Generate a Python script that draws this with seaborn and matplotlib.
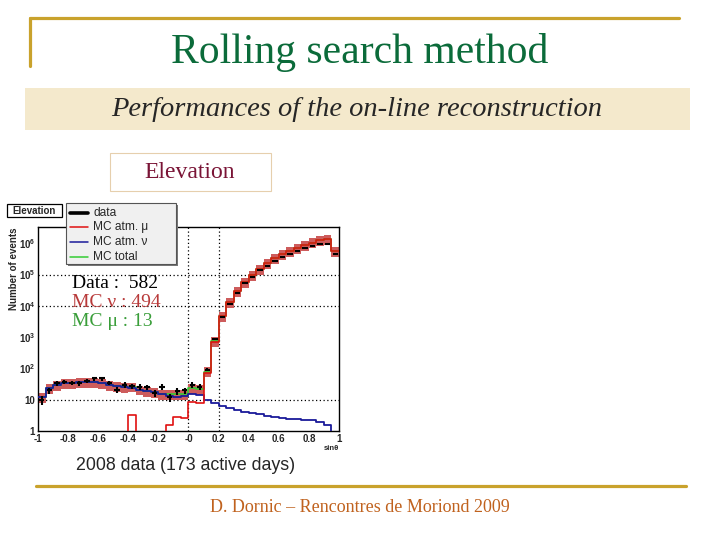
import numpy as np
import pandas as pd
import matplotlib
matplotlib.use("Agg")
import matplotlib.pyplot as plt
from matplotlib.patches import Rectangle
from matplotlib.lines import Line2D
import seaborn as sns

# sin(theta) binning: 40 bins of 0.05 from -1 to 1
bin_edges = np.round(np.arange(-1.0, 1.0001, 0.05), 3)
bin_centers = bin_edges[:-1] + 0.025

# Values (events per bin)
data_counts = [10, 20, 33, 37, 35, 33, 40, 48, 48, 35,
               21, 30, 27, 26, 25, 16, 26, 12, 19, 20,
               30, 26, 90, 870, 4300, 11500, 25000, 52000, 85000, 135000,
               185000, 270000, 360000, 450000, 560000, 700000, 820000, 920000, 950000, 450000]
mc_atm_mu = [0, 0, 0, 0, 0, 0, 0, 0, 0, 0,
             0, 0, 3.2, 0, 0, 0, 0, 1.5, 2.9, 2.6,
             8.2, 7.8, 70, 720, 4700, 13000, 29000, 58000, 95000, 145000,
             230000, 340000, 450000, 560000, 700000, 860000, 1050000, 1250000, 1400000, 550000]
mc_atm_nu = [12, 24, 30, 33, 35, 36, 36, 36, 34, 30,
             27, 25, 23, 21, 19, 17, 15, 13.5, 12.5, 13,
             15, 14, 9.5, 8, 6.5, 5.5, 4.6, 4.1, 3.7, 3.4,
             3.1, 2.9, 2.7, 2.5, 2.4, 2.3, 2.2, 2.0, 1.6, 0.5]
mc_rel_err = 0.35  # systematic band on MC total

x_ticks = [-1, -0.8, -0.6, -0.4, -0.2, 0, 0.2, 0.4, 0.6, 0.8, 1]
x_ticklabels = ["-1", "-0.8", "-0.6", "-0.4", "-0.2", "-0", "0.2", "0.4", "0.6", "0.8", "1"]
y_ticks = [1, 10, 1e2, 1e3, 1e4, 1e5, 1e6]
y_ticklabels = ["1", "10", "$10^2$", "$10^3$", "$10^4$", "$10^5$", "$10^6$"]

legend_labels = ["data", "MC atm. \u03bc", "MC atm. \u03bd", "MC total"]
legend_colors = ["black", "#e01010", "#1a1a9a", "#33cc33"]
counts_text = [("Data :  582", "black"), ("MC \u03bd : 494", "#b83a3a"), ("MC \u03bc : 13", "#3a9e3a")]

sns.set_style("white")
plt.rcParams["font.family"] = ["Liberation Sans", "DejaVu Sans"]
plt.rcParams["mathtext.fontset"] = "custom"
plt.rcParams["mathtext.rm"] = "Liberation Sans:bold"

W, H = 720, 540
fig = plt.figure(figsize=(7.2, 5.4), dpi=100)


def fx(x):
    return x / W


def fy(y):
    return 1 - y / H


gold = "#c9a22c"
# slide decoration
fig.add_artist(Line2D([fx(30), fx(679)], [fy(18), fy(18)], color=gold, lw=2.3))
fig.add_artist(Line2D([fx(30), fx(30)], [fy(18), fy(66)], color=gold, lw=2.3))
fig.add_artist(Line2D([fx(36), fx(686)], [fy(486), fy(486)], color=gold, lw=2.3))
fig.add_artist(Rectangle((fx(25), fy(130)), fx(665), 42 / H, color="#f4e9cc", lw=0))
fig.add_artist(Rectangle((fx(110), fy(191)), fx(161), 38 / H, facecolor="white",
                         edgecolor="#e6cfad", lw=0.8))

fig.text(fx(360), fy(53), "Rolling search method", ha="center", va="center",
         family="Liberation Serif", fontsize=30, color="#0b6b3a")
fig.text(fx(357), fy(110), "Performances of the on-line reconstruction", ha="center",
         va="center", family="Liberation Serif", style="italic", fontsize=20.5)
fig.text(fx(190), fy(173), "Elevation", ha="center", va="center",
         family="Liberation Serif", fontsize=17, color="#7a1436")
fig.text(fx(76), fy(466), "2008 data (173 active days)", ha="left", va="center",
         fontsize=12.8)
fig.text(fx(360), fy(507), "D. Dornic \u2013 Rencontres de Moriond 2009", ha="center",
         va="center", family="Liberation Serif", fontsize=13, color="#c0621e")

# histogram panel
ax = fig.add_axes([fx(38), fy(431), (339 - 38) / W, (431 - 227) / H])

mu = np.array(mc_atm_mu, dtype=float)
nu = np.array(mc_atm_nu, dtype=float)
total = mu + nu
data = np.array(data_counts, dtype=float)
df = pd.DataFrame({"sin_theta": bin_centers, "mu": mu, "nu": nu, "total": total})
edges = [float(e) for e in bin_edges]

ax.bar(bin_edges[:-1], total * 2 * mc_rel_err, bottom=total * (1 - mc_rel_err), width=0.05,
       align="edge", color="#cd5c5c", lw=0, zorder=1)
sns.histplot(data=df, x="sin_theta", weights="total", bins=edges, element="step",
             fill=False, color=legend_colors[3], linewidth=1.2, ax=ax, zorder=2)
sns.histplot(data=df, x="sin_theta", weights="nu", bins=edges, element="step",
             fill=False, color=legend_colors[2], linewidth=1.3, ax=ax, zorder=3)
sns.histplot(data=df, x="sin_theta", weights="mu", bins=edges, element="step",
             fill=False, color=legend_colors[1], linewidth=1.2, ax=ax, zorder=4)
ax.errorbar(bin_centers, data, yerr=np.sqrt(data), xerr=0.018, fmt="none",
            ecolor="black", elinewidth=1.5, zorder=5)

ax.set_yscale("log")
ax.set_xlim(-1, 1)
ax.set_ylim(1, 3.3e6)
ax.set_xlabel("")
ax.set_ylabel("")

ax.axvline(0, color="black", lw=0.9, ls=(0, (1, 2)), zorder=0.5)
ax.axvline(0.2, color="black", lw=0.9, ls=(0, (1, 2)), zorder=0.5)
for yv in [10, 1e4, 1e5]:
    ax.axhline(yv, color="black", lw=0.9, ls=(0, (1, 2)), zorder=0.5)

ax.set_xticks(x_ticks)
ax.set_xticklabels(x_ticklabels, fontsize=7, fontweight="bold")
ax.set_xticks(np.arange(-1, 1.001, 0.04), minor=True)
ax.set_yticks(y_ticks)
ax.set_yticklabels(y_ticklabels, fontsize=7, fontweight="bold")
ax.tick_params(axis="both", which="both", direction="in", top=False, right=False,
               pad=2)
ax.tick_params(axis="both", which="major", length=6, width=0.9)
ax.tick_params(axis="both", which="minor", length=3, width=0.7)
for s in ax.spines.values():
    s.set_color("black")
    s.set_linewidth(1.0)

fig.text(fx(14), fy(227), "Number of events", rotation=90, ha="center", va="top",
         fontsize=7, fontweight="bold")
fig.text(fx(331), fy(449), "sin\u03b8", ha="center", va="center", fontsize=5.5,
         fontweight="bold")

# ROOT-like title box
fig.add_artist(Rectangle((fx(7), fy(217)), 55 / W, 13 / H, facecolor="white",
                         edgecolor="black", lw=0.9))
fig.text(fx(34.5), fy(210.5), "Elevation", ha="center", va="center", fontsize=7,
         fontweight="bold")

# ROOT-like legend box (drawn by hand so its size matches the canvas)
fig.add_artist(Rectangle((fx(68), fy(266)), 110 / W, 61 / H, facecolor="#777777",
                         lw=0, zorder=9))
fig.add_artist(Rectangle((fx(66), fy(264)), 110 / W, 61 / H, facecolor="#f0f0f0",
                         edgecolor="#555555", lw=0.8, zorder=10))
for i, (lab, col) in enumerate(zip(legend_labels, legend_colors)):
    yy = 212.5 + 14.7 * i
    fig.add_artist(Line2D([fx(70), fx(88)], [fy(yy), fy(yy)], color=col,
                          lw=2.6 if i == 0 else 1.1, zorder=11))
    fig.text(fx(93), fy(yy), lab, ha="left", va="center", fontsize=8.6, zorder=11)

for i, (txt, col) in enumerate(counts_text):
    fig.text(fx(72), fy(284 + 18.5 * i), txt, ha="left", va="center",
             family="Liberation Serif", fontsize=14, color=col)

fig.savefig("out.png", dpi=100)
